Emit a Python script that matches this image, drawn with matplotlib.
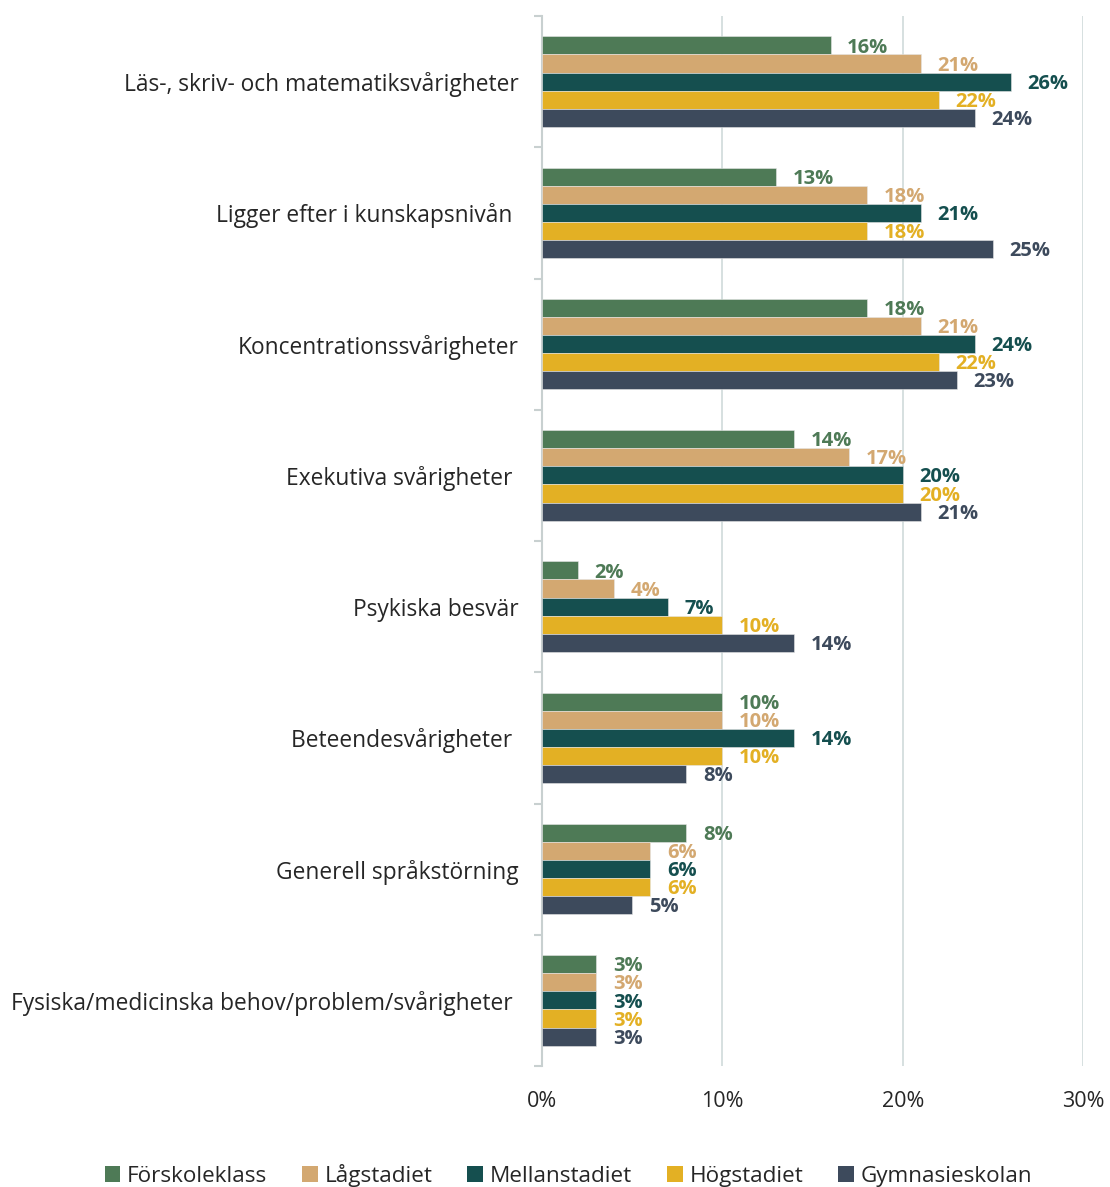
import numpy as np
import matplotlib.pyplot as plt
from matplotlib.patches import Patch

categories = ["Läs-, skriv- och matematiksvårigheter",
              "Ligger efter i kunskapsnivån ",
              "Koncentrationssvårigheter",
              "Exekutiva svårigheter ",
              "Psykiska besvär",
              "Beteendesvårigheter ",
              "Generell språkstörning",
              "Fysiska/medicinska behov/problem/svårigheter "]
series = ["Förskoleklass", "Lågstadiet", "Mellanstadiet", "Högstadiet", "Gymnasieskolan"]
forskoleklass = [16, 13, 18, 14, 2, 10, 8, 3]
lagstadiet = [21, 18, 21, 17, 4, 10, 6, 3]
mellanstadiet = [26, 21, 24, 20, 7, 14, 6, 3]
hogstadiet = [22, 18, 22, 20, 10, 10, 6, 3]
gymnasieskolan = [24, 25, 23, 21, 14, 8, 5, 3]
colors = ["#4e7a56", "#d3a871", "#154f4f", "#e3b024", "#3d4a5c"]

plt.rcParams['font.family'] = ['Open Sans', 'DejaVu Sans']

def main():
	values = [forskoleklass, lagstadiet, mellanstadiet, hogstadiet, gymnasieskolan]
	fig = plt.figure(figsize=(11.1, 11.87), dpi=100)
	ax = fig.add_axes([0.4883, 0.1019, 0.4874, 0.8846])

	n = len(categories)
	h = 0.138
	y = np.arange(n)
	for i, (vals, name, c) in enumerate(zip(values, series, colors)):
		pos = y + (i - 2) * h
		ax.barh(pos, vals, height=h, color=c, edgecolor="#e6e6e6", linewidth=0.4, label=name, zorder=3)
		for p, v in zip(pos, vals):
			ax.annotate(f"{v}%", (v, p), xytext=(12, -1.5), textcoords="offset points",
						ha="left", va="center", color=c, fontsize=14.5, fontweight="bold")

	ax.set_ylim(n - 0.5, -0.5)
	ax.set_xlim(0, 30)
	ax.set_xticks([0, 10, 20, 30])
	ax.set_xticklabels(["0%", "10%", "20%", "30%"])
	ax.set_yticks(y)
	ax.set_yticklabels(categories)
	ax.set_yticks(np.arange(n + 1) - 0.5, minor=True)
	ax.tick_params(axis="y", which="major", length=0, pad=17, labelsize=16.4, labelcolor="#262626")
	ax.tick_params(axis="y", which="minor", length=6, color="#c8d0d0", width=1.5)
	ax.tick_params(axis="x", length=0, pad=18, labelsize=15.5, labelcolor="#262626")
	ax.grid(axis="x", color="#d0dada", linewidth=1.2, zorder=0)
	for s in ["top", "right", "bottom"]:
		ax.spines[s].set_visible(False)
	ax.spines["left"].set_color("#c8d0d0")
	ax.spines["left"].set_linewidth(1.5)

	handles = [Patch(facecolor=c, label=s) for s, c in zip(series, colors)]
	fig.legend(handles=handles, loc="center", bbox_to_anchor=(0.512, 0.01), ncol=5, frameon=False,
			   fontsize=16.2, handlelength=0.7, handleheight=0.7, handletextpad=0.3, columnspacing=1.55,
			   labelcolor="#262626")

	fig.savefig("out.png", dpi=100)

if __name__ == '__main__':
	main()
